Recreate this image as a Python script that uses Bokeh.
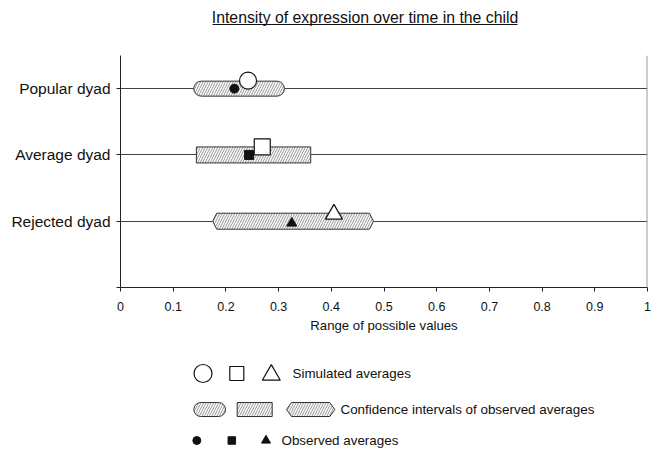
from bokeh.plotting import figure
from bokeh.layouts import column
from bokeh.models import Range1d, FixedTicker, Span
from bokeh.core.properties import value
from bokeh.embed import file_html
from bokeh.resources import INLINE

# ---------------- data ----------------
categories = ["Popular dyad", "Average dyad", "Rejected dyad"]
cat_pos = [3, 2, 1]
ci_low = [0.139, 0.144, 0.175]
ci_high = [0.311, 0.361, 0.480]
simulated = [0.242, 0.269, 0.405]
observed = [0.216, 0.244, 0.325]
x_ticks = [0, 0.1, 0.2, 0.3, 0.4, 0.5, 0.6, 0.7, 0.8, 0.9, 1]
x_tick_labels = ["0", "0.1", "0.2", "0.3", "0.4", "0.5", "0.6", "0.7", "0.8", "0.9", "1"]
title_text = "Intensity of expression over time in the child"
x_label = "Range of possible values"
legend_texts = ["Simulated averages", "Confidence intervals of observed averages", "Observed averages"]

FONT = "Liberation Sans"
W = 654
BL, BR = 120, 7          # left/right borders shared by all stacked figures
FRAME_W = W - BL - BR    # 527
XR = (BL, BL + FRAME_W)  # pixel-like x range for title/legend panels


def blank(height):
    f = figure(width=W, height=height, x_range=Range1d(*XR), y_range=Range1d(0, height),
               toolbar_location=None, output_backend="svg",
               min_border_left=BL, min_border_right=BR, min_border_top=0, min_border_bottom=0)
    f.axis.visible = False
    f.grid.visible = False
    f.outline_line_color = None
    return f


# ---------------- title panel ----------------
TH = 48
t = blank(TH)
t.text(x=[364.5], y=[TH - 17], text=[title_text], text_font=value(FONT),
       text_font_size="15.8px", text_align="center", text_baseline="middle", text_color="#111")
t.segment(x0=[212], y0=[TH - 24], x1=[517], y1=[TH - 24], line_color="#111", line_width=1)

# ---------------- main figure ----------------
FRAME_H = 232
p = figure(width=W, height=292, x_range=Range1d(0, 1), y_range=Range1d(0, 3.5),
           toolbar_location=None, output_backend="svg",
           min_border_left=BL, min_border_right=BR, min_border_top=7, min_border_bottom=53)
PX_X = 1.0 / FRAME_W
PX_Y = 3.5 / FRAME_H
p.outline_line_color = None
p.background_fill_color = "white"
p.border_fill_color = "white"

p.xaxis.ticker = FixedTicker(ticks=x_ticks)
p.xaxis.major_label_overrides = {tk: lb for tk, lb in zip(x_ticks, x_tick_labels)}
p.xaxis.axis_label = x_label
p.xaxis.axis_label_text_font = FONT
p.xaxis.axis_label_text_font_style = "normal"
p.xaxis.axis_label_text_font_size = "13.2px"
p.xaxis.axis_label_text_color = "#111"
p.xaxis.axis_label_standoff = 4
p.xaxis.major_label_text_font = FONT
p.xaxis.major_label_text_font_size = "12.5px"
p.xaxis.major_label_text_color = "#111"
p.xaxis.major_label_standoff = 10

p.yaxis.ticker = FixedTicker(ticks=[0] + cat_pos)
p.yaxis.major_label_overrides = {0: "", **{c: n for c, n in zip(cat_pos, categories)}}
p.yaxis.major_label_text_font = FONT
p.yaxis.major_label_text_font_size = "15.5px"
p.yaxis.major_label_text_color = "#111"
p.yaxis.major_label_standoff = 6

for ax in (p.xaxis, p.yaxis):
    ax.major_tick_in = 0
    ax.major_tick_out = 4
    ax.minor_tick_line_color = None
    ax.axis_line_color = "#222"
    ax.major_tick_line_color = "#222"

p.xgrid.visible = False
p.ygrid.ticker = FixedTicker(ticks=cat_pos)
p.ygrid.grid_line_color = "#444"
p.ygrid.grid_line_width = 1

p.add_layout(Span(location=1, dimension="height", line_color="#999", line_width=2))

hatch = dict(fill_color="white", hatch_pattern="/", hatch_color="#666",
             hatch_scale=5, hatch_weight=0.7, line_color="#333", line_width=1)

# Popular: rounded capsule
p.hbar(y=[cat_pos[0]], left=[ci_low[0]], right=[ci_high[0]], height=15 * PX_Y,
       border_radius=8, **hatch)
# Average: rectangle
p.hbar(y=[cat_pos[1]], left=[ci_low[1]], right=[ci_high[1]], height=16 * PX_Y, **hatch)
# Rejected: hexagon
tip = 4 * PX_X
hh = 16 * PX_Y / 2
lo, hi, yc = ci_low[2], ci_high[2], cat_pos[2]
p.patches(xs=[[lo, lo + tip, hi - tip, hi, hi - tip, lo + tip]],
          ys=[[yc, yc + hh, yc + hh, yc, yc - hh, yc - hh]], **hatch)

markers = ["circle", "square", "triangle"]
sim_size = [17, 16, 17]
obs_size = [9, 9, 10]
sim_dy = [8, 8, 7]
obs_dy = [0, 0, -2]
for i in range(3):
    p.scatter(x=[observed[i]], y=[cat_pos[i] + obs_dy[i] * PX_Y], marker=markers[i],
              size=obs_size[i], fill_color="#111", line_color="#111", line_width=1)
for i in range(3):
    p.scatter(x=[simulated[i]], y=[cat_pos[i] + sim_dy[i] * PX_Y], marker=markers[i],
              size=sim_size[i], fill_color="white", line_color="#111", line_width=1.2)

# ---------------- legend panel ----------------
LH = 114
lg = blank(LH)
r1, r2, r3 = LH - 33, LH - 69, LH - 100
# row 1: simulated
lg.scatter(x=[202.5], y=[r1], marker="circle", size=18, fill_color="white", line_color="#111", line_width=1.2)
lg.scatter(x=[236.3], y=[r1], marker="square", size=14, fill_color="white", line_color="#111", line_width=1.2)
lg.scatter(x=[270.8], y=[r1 - 1.5], marker="triangle", size=18, fill_color="white", line_color="#111", line_width=1.2)
# row 2: confidence intervals
lg.hbar(y=[r2], left=[193.3], right=[225], height=14, border_radius=7, **hatch)
lg.hbar(y=[r2], left=[236.7], right=[271.7], height=14, **hatch)
lg.patches(xs=[[286, 291, 329.3, 334.3, 329.3, 291]],
           ys=[[r2, r2 + 7, r2 + 7, r2, r2 - 7, r2 - 7]], **hatch)
# row 3: observed
lg.scatter(x=[196.3], y=[r3], marker="circle", size=8, fill_color="#111", line_color="#111")
lg.scatter(x=[231.3], y=[r3], marker="square", size=7.5, fill_color="#111", line_color="#111")
lg.scatter(x=[265.5], y=[r3], marker="triangle", size=9, fill_color="#111", line_color="#111")

lg.text(x=[292, 340, 281], y=[r1, r2, r3], text=legend_texts, text_font=value(FONT),
        text_font_size="13.4px", text_align="left", text_baseline="middle", text_color="#111")

layout = column(t, p, lg, spacing=0)
open("out.html", "w").write(file_html(layout, INLINE))
